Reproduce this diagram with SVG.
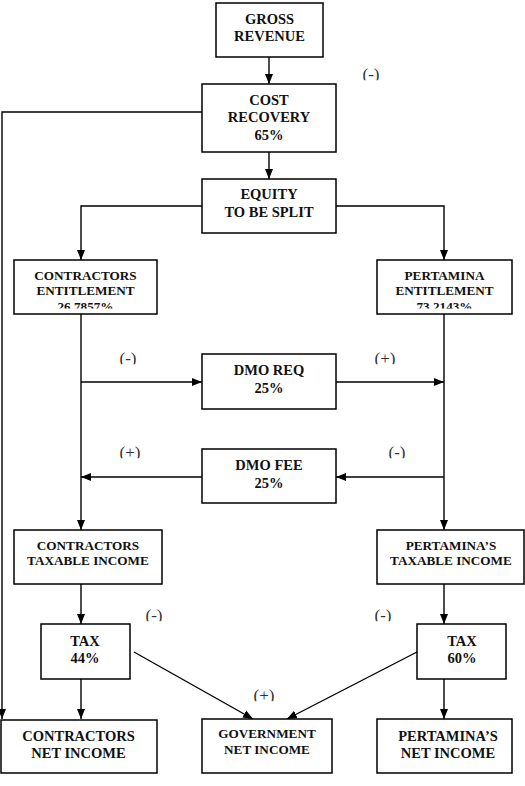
<svg xmlns="http://www.w3.org/2000/svg" width="525" height="786" viewBox="0 0 525 786">
<style>
.box{fill:#fff;stroke:#000;stroke-width:1.5}
.t{font-family:"Liberation Serif","Times New Roman",serif;font-weight:bold;font-size:14.5px;text-anchor:middle;fill:#111}
.s{font-size:13.2px}
.lbl{font-family:"Liberation Serif","Times New Roman",serif;font-size:17px;text-anchor:middle;fill:#333}
.c{fill:none;stroke:#000;stroke-width:1.4}
</style>
<defs>
<marker id="ah" markerUnits="userSpaceOnUse" markerWidth="10" markerHeight="10" viewBox="0 0 10 10" refX="10" refY="5" orient="auto">
<path d="M0,1 L10,5 L0,9 Z" fill="#000"/>
</marker>
<clipPath id="lc" clipPathUnits="objectBoundingBox"><rect x="0" y="0" width="1" height="0.8"/></clipPath>
<clipPath id="pc" clipPathUnits="userSpaceOnUse"><rect x="0" y="290" width="525" height="18.5"/></clipPath>
</defs>
<rect width="525" height="786" fill="#fff"/>
<g id="connectors">
<line class="c" x1="269" y1="57" x2="269" y2="84" marker-end="url(#ah)"/>
<polyline class="c" points="202,112 2,112 2,719" marker-end="url(#ah)"/>
<line class="c" x1="269" y1="152" x2="269" y2="179" marker-end="url(#ah)"/>
<polyline class="c" points="202,206 81,206 81,260" marker-end="url(#ah)"/>
<polyline class="c" points="336,206 444,206 444,260" marker-end="url(#ah)"/>
<line class="c" x1="81" y1="314" x2="81" y2="530" marker-end="url(#ah)"/>
<line class="c" x1="444" y1="314" x2="444" y2="530" marker-end="url(#ah)"/>
<line class="c" x1="81" y1="382" x2="202" y2="382" marker-end="url(#ah)"/>
<line class="c" x1="336" y1="382" x2="444" y2="382" marker-end="url(#ah)"/>
<line class="c" x1="444" y1="477" x2="336" y2="477" marker-end="url(#ah)"/>
<line class="c" x1="202" y1="477" x2="81" y2="477" marker-end="url(#ah)"/>
<line class="c" x1="81" y1="584" x2="81" y2="624" marker-end="url(#ah)"/>
<line class="c" x1="444" y1="584" x2="444" y2="624" marker-end="url(#ah)"/>
<line class="c" x1="81" y1="679" x2="81" y2="719" marker-end="url(#ah)"/>
<line class="c" x1="444" y1="679" x2="444" y2="719" marker-end="url(#ah)"/>
<line class="c" x1="134" y1="652" x2="253" y2="719" marker-end="url(#ah)"/>
<line class="c" x1="417" y1="652" x2="287" y2="719" marker-end="url(#ah)"/>
</g>
<g id="labels">
<text class="lbl" x="371" y="80" clip-path="url(#lc)">(-)</text>
<text class="lbl" x="128" y="364" clip-path="url(#lc)">(-)</text>
<text class="lbl" x="385" y="364" clip-path="url(#lc)">(+)</text>
<text class="lbl" x="130" y="458" clip-path="url(#lc)">(+)</text>
<text class="lbl" x="397" y="458" clip-path="url(#lc)">(-)</text>
<text class="lbl" x="154" y="621" clip-path="url(#lc)">(-)</text>
<text class="lbl" x="383" y="621" clip-path="url(#lc)">(-)</text>
<text class="lbl" x="264" y="701" clip-path="url(#lc)">(+)</text>
</g>
<g id="gross-revenue">
<rect class="box" x="216" y="3" width="107" height="54"/>
<text class="t" x="269.5" y="24">GROSS</text>
<text class="t" x="269.5" y="41">REVENUE</text>
</g>
<g id="cost-recovery">
<rect class="box" x="202" y="84" width="134" height="68"/>
<text class="t" x="269" y="104.5">COST</text>
<text class="t" x="269" y="122">RECOVERY</text>
<text class="t" x="269" y="140">65%</text>
</g>
<g id="equity">
<rect class="box" x="202" y="179" width="134" height="54"/>
<text class="t" x="269" y="199">EQUITY</text>
<text class="t" x="269" y="217">TO BE SPLIT</text>
</g>
<g id="contractors-entitlement">
<rect class="box" x="14" y="260" width="143" height="54"/>
<text class="t s" x="85.5" y="280">CONTRACTORS</text>
<text class="t s" x="85.5" y="295">ENTITLEMENT</text>
<text class="t s" x="85.5" y="310.5" clip-path="url(#pc)">26.7857%</text>
</g>
<g id="pertamina-entitlement">
<rect class="box" x="377" y="260" width="135" height="54"/>
<text class="t s" x="444.5" y="280">PERTAMINA</text>
<text class="t s" x="444.5" y="295">ENTITLEMENT</text>
<text class="t s" x="444.5" y="310.5" clip-path="url(#pc)">73.2143%</text>
</g>
<g id="dmo-req">
<rect class="box" x="202" y="354" width="134" height="55"/>
<text class="t" x="269" y="375">DMO REQ</text>
<text class="t" x="269" y="393">25%</text>
</g>
<g id="dmo-fee">
<rect class="box" x="202" y="449" width="134" height="54"/>
<text class="t" x="269" y="470">DMO FEE</text>
<text class="t" x="269" y="488">25%</text>
</g>
<g id="contractors-taxable">
<rect class="box" x="14" y="530" width="148" height="54"/>
<text class="t s" x="88" y="550">CONTRACTORS</text>
<text class="t s" x="88" y="565">TAXABLE INCOME</text>
</g>
<g id="pertamina-taxable">
<rect class="box" x="377" y="530" width="147" height="54"/>
<text class="t s" x="451" y="550">PERTAMINA’S</text>
<text class="t s" x="451" y="565">TAXABLE INCOME</text>
</g>
<g id="tax-44">
<rect class="box" x="41" y="624" width="89" height="55"/>
<text class="t" x="85" y="646">TAX</text>
<text class="t" x="85" y="663">44%</text>
</g>
<g id="tax-60">
<rect class="box" x="417" y="624" width="89" height="55"/>
<text class="t" x="462" y="646">TAX</text>
<text class="t" x="462" y="663">60%</text>
</g>
<g id="contractors-net">
<rect class="box" x="1" y="720" width="156" height="53"/>
<text class="t" x="78.5" y="741">CONTRACTORS</text>
<text class="t" x="78.5" y="758">NET INCOME</text>
</g>
<g id="government-net">
<rect class="box" x="202" y="719" width="130" height="54"/>
<text class="t s" x="267" y="738">GOVERNMENT</text>
<text class="t s" x="267" y="754">NET INCOME</text>
</g>
<g id="pertamina-net">
<rect class="box" x="377" y="719" width="135" height="54"/>
<text class="t" x="448" y="741">PERTAMINA’S</text>
<text class="t" x="448" y="758">NET INCOME</text>
</g>
</svg>
